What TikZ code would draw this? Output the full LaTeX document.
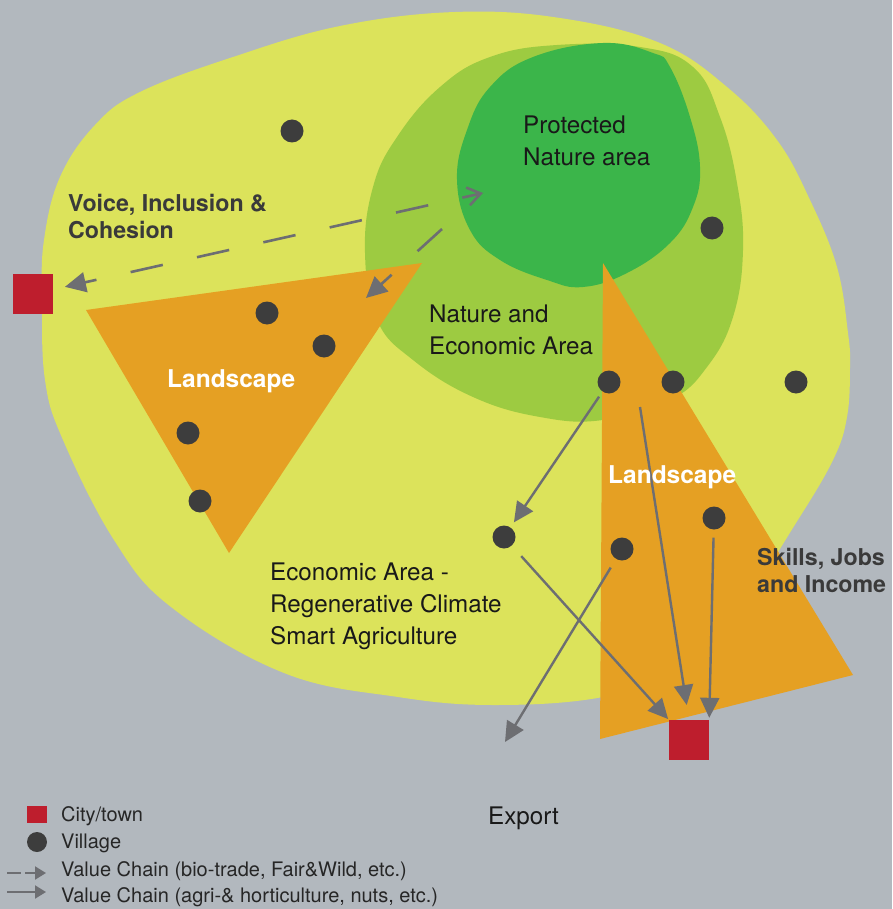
\documentclass[tikz,border=0pt]{standalone}
\usepackage{fontspec}
\setmainfont{TeX Gyre Heros}
\usetikzlibrary{arrows.meta,positioning}

\definecolor{bggrey}{HTML}{B2B8BE}
\definecolor{areayellow}{HTML}{DCE35B}
\definecolor{arealight}{HTML}{9DCB41}
\definecolor{areadark}{HTML}{3BB54A}
\definecolor{landorange}{HTML}{E5A023}
\definecolor{townred}{HTML}{BE1E2D}
\definecolor{dotgrey}{HTML}{3D3D3D}
\definecolor{chaingrey}{HTML}{6D6E72}
\definecolor{txtgrey}{HTML}{3A3A3A}

\tikzset{
	village/.style={circle,fill=dotgrey,minimum size=23pt,inner sep=0pt},
	town/.style={rectangle,fill=townred,minimum size=40pt,inner sep=0pt},
	chain/.style={color=chaingrey,line width=2.4pt,-{Triangle[length=20pt,width=19pt]}},
	biochain/.style={color=chaingrey,line width=2.6pt,dash pattern=on 33pt off 35pt},
	lbl/.style={anchor=base west,align=left,inner sep=0pt,text=black!90,font=\fontsize{24.2}{32}\selectfont},
	boldlbl/.style={anchor=base west,align=left,inner sep=0pt,text=txtgrey,font=\bfseries\fontsize{23.2}{27}\selectfont},
	landlbl/.style={anchor=base west,inner sep=0pt,text=white,font=\bfseries\fontsize{24.5}{28}\selectfont},
	leglbl/.style={anchor=base west,inner sep=0pt,text=black!85,font=\fontsize{20}{24}\selectfont}
}

\begin{document}
\begin{tikzpicture}[x=1pt,y=-1pt]
	\fill[bggrey] (0,0) rectangle (892,909);
	\useasboundingbox (0,0) rectangle (892,909);

	\fill[areayellow] plot[smooth cycle,tension=0.65] coordinates {(42,300) (44,240) (60,177) (95,125) (140,92) (233,57) (340,26) (455,12) (560,18) (660,43) (727,87) (777,140) (810,200) (837,267) (848,333) (850,367) (847,417) (833,460) (796,523) (745,600) (680,670) (603,697) (495,705) (398,697) (284,673) (171,607) (114,540) (63,440) (45,380)};
	\fill[arealight] plot[smooth cycle,tension=0.7] coordinates {(365,253) (373,187) (397,137) (440,87) (490,57) (557,45) (640,47) (693,67) (720,117) (737,183) (743,250) (733,317) (707,367) (670,400) (603,420) (540,417) (473,397) (413,360) (377,320)};
	\fill[areadark] plot[smooth cycle,tension=0.7] coordinates {(457,180) (467,130) (490,87) (533,57) (603,43) (653,53) (670,67) (690,117) (700,167) (693,207) (670,243) (627,273) (583,287) (547,280) (500,260) (470,230)};

	\fill[landorange] (86,310) -- (422,263) -- (229,553) -- cycle;
	\fill[landorange] (603,263) -- (853,675) -- (600,739) -- cycle;

	\foreach \x/\y [count=\n] in
		{292/131,712/228,267/313,324/346,188/433,200/501,609/382,673/382,796/382,504/537,622/549,714/518}
			\node[village] (V\n) at (\x,\y) {};

	\node[town] (C1) at (33,294) {};
	\node[town] (C2) at (689,740) {};

	\coordinate (g1) at (483,193);
	\coordinate (g2) at (442,229);
	\coordinate (t1) at (366,298);
	\coordinate (s1) at (640,407);
	\coordinate (x1) at (505,742);

	\path[chain]
		(V7) edge[shorten <=6pt,shorten >=6pt] (V10)
		(s1) edge[shorten >=15pt] (C2.north)
		(V10) edge[shorten <=14pt,shorten >=1pt] (C2.north west)
		(V11) edge[shorten <=10pt] (x1)
		(V12) edge[shorten <=8pt,shorten >=2pt] (C2.north east);

	\path[biochain,{Triangle[length=21pt,width=20pt]}-{Straight Barb[length=13pt,width=18pt]},dash phase=21pt]
		(C1) edge[shorten <=12pt] (g1);
	\path[biochain,-{Triangle[length=21pt,width=20pt]}]
		(g2) edge (t1);

	\node[lbl] (prot) at (523,166) {Protected\\Nature area};
	\node[lbl] (natec) at (429,354) {Nature and\\Economic Area};
	\node[lbl] (econ) at (270,644) {Economic Area -\\Regenerative Climate\\Smart Agriculture};
	\node[boldlbl] (voice) at (68,238) {Voice, Inclusion \&\\Cohesion};
	\node[boldlbl] (skills) at (757,592) {Skills, Jobs\\and Income};
	\node[landlbl] (land1) at (167,387) {Landscape};
	\node[landlbl] (land2) at (608,483) {Landscape};
	\node[lbl] (export) at (488,824) {Export};

	\node[town,minimum size=0pt,minimum width=20pt,minimum height=17pt] (L1) at (37,814) {};
	\node[village,minimum size=20pt] (L2) at (37,842) {};
	\coordinate (la1) at (7,873);
	\coordinate (la2) at (46,873);
	\coordinate (lb1) at (7,892);
	\coordinate (lb2) at (46,892);
	\draw[chaingrey,line width=2pt,dash pattern=on 14pt off 4pt,-{Triangle[length=11pt,width=13pt]}] (la1) -- (la2);
	\draw[chaingrey,line width=2pt,-{Triangle[length=11pt,width=13pt]}] (lb1) -- (lb2);
	\node[leglbl] (leg1) at (61,821) {City/town};
	\node[leglbl] (leg2) at (61,848) {Village};
	\node[leglbl] (leg3) at (61,876) {Value Chain (bio-trade, Fair\&Wild, etc.)};
	\node[leglbl] (leg4) at (61,902) {Value Chain (agri-\& horticulture, nuts, etc.)};
\end{tikzpicture}
\end{document}
